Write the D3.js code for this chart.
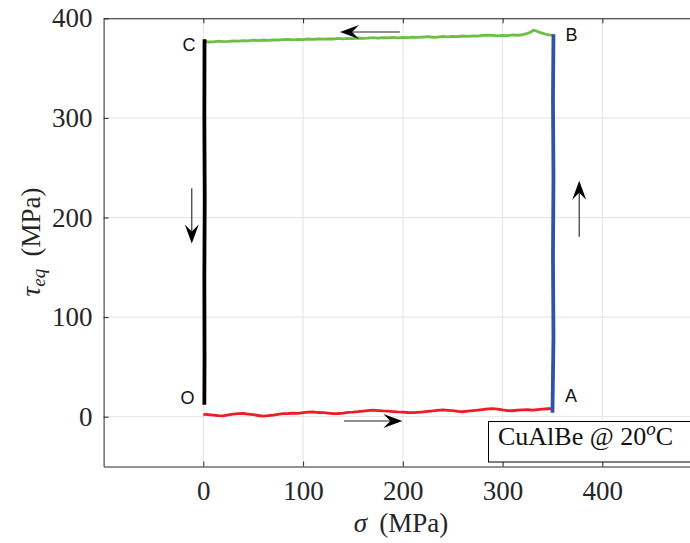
<!DOCTYPE html>
<html>
<head>
<meta charset="utf-8">
<script src="https://cdn.jsdelivr.net/npm/d3@7"></script>
<style>
  html, body { margin: 0; padding: 0; background: #fff; }
  svg { display: block; }
</style>
</head>
<body>
<div id="chart"></div>
<script>
// ---------- data ----------
const xTicks = [0, 100, 200, 300, 400];
const yTicks = [0, 100, 200, 300, 400];

// O -> A (red): sigma, tau
const redSigma = [0, 5, 10, 15, 20, 25, 30, 35, 40, 45, 50, 55, 60, 65, 70, 75, 80, 85, 90, 95, 100, 105, 110, 115, 120, 125, 130, 135, 140, 145, 150, 155, 160, 165, 170, 175, 180, 185, 190, 195, 200, 205, 210, 215, 220, 225, 230, 235, 240, 245, 250, 255, 260, 265, 270, 275, 280, 285, 290, 295, 300, 305, 310, 315, 320, 325, 330, 335, 340, 345, 350];
const redTau   = [2.4, 2.0, 1.6, 1.0, 0.8, 1.8, 2.6, 3.0, 3.2, 2.6, 2.0, 1.2, 0.6, 1.0, 1.6, 2.4, 3.0, 3.2, 3.6, 3.4, 4.2, 4.6, 4.8, 4.2, 4.0, 3.6, 3.0, 3.2, 3.6, 4.4, 4.6, 5.0, 5.6, 6.2, 6.6, 6.2, 5.8, 5.6, 5.2, 4.8, 4.6, 4.2, 4.0, 4.4, 4.8, 5.4, 5.8, 6.4, 6.8, 6.4, 6.0, 5.4, 5.0, 5.6, 6.2, 6.6, 7.2, 7.8, 8.2, 7.6, 6.8, 6.2, 6.0, 6.6, 6.8, 7.0, 6.6, 7.2, 7.6, 8.0, 8.2];

// A -> B (blue)
const blueSigma = [350, 351, 350.5, 351, 350.5, 351];
const blueTau   = [4, 80, 160, 240, 320, 384];

// B -> C (green)
const greenSigma = [351, 346, 342, 338, 334, 331, 328, 324, 320, 315, 310, 305, 300, 295, 290, 285, 280, 275, 270, 265, 260, 255, 250, 245, 240, 235, 230, 225, 220, 215, 210, 205, 200, 195, 190, 185, 180, 175, 170, 165, 160, 155, 150, 145, 140, 135, 130, 125, 120, 115, 110, 105, 100, 95, 90, 85, 80, 75, 70, 65, 60, 55, 50, 45, 40, 35, 30, 25, 20, 15, 10, 5, 2];
const greenTau   = [383, 383.4, 384.4, 385.6, 387.2, 388, 386, 384.6, 383.6, 383, 383.4, 382.6, 382.8, 382.4, 382.8, 383.2, 382.8, 382.2, 382.4, 381.8, 382.2, 381.6, 381.8, 381.4, 381.8, 381.2, 381, 381.6, 381.2, 380.8, 381, 380.6, 380.8, 380.4, 380.8, 380.4, 380.6, 380.2, 380.6, 380, 379.8, 380.2, 379.6, 379.8, 379.4, 379.8, 379.2, 379.4, 379, 379.4, 378.8, 379.2, 378.6, 378.8, 378.4, 378.8, 378.6, 378.2, 378.4, 377.8, 378.2, 377.6, 378, 377.4, 377.6, 377, 377.2, 376.8, 376.6, 377, 376.4, 376.2, 377];

// C -> O (black)
const blackSigma = [1.2, 1.0, 1.4, 1.0, 1.2, 1.0];
const blackTau   = [379, 300, 220, 140, 60, 12];

// point labels
const ptNames = ["O", "A", "B", "C"];
const ptSigma = [-15.8, 368.5, 369, -14.4];
const ptTau   = [13.2, 14.8, 377.2, 367];

// direction arrows: from (sigma, tau) to (sigma, tau)
const arrFromSigma = [141, 197, -11.6, 376.8];
const arrFromTau   = [-4.3, 386.2, 229.3, 180.7];
const arrToSigma   = [199.5, 137, -11.6, 376.8];
const arrToTau     = [-4.3, 386.2, 174, 237];

const boxText = "CuAlBe @ 20";

// ---------- drawing ----------
const W = 690, H = 543;
const svg = d3.select("#chart").append("svg").attr("width", W).attr("height", H);

const x = d3.scaleLinear().domain([-100, 500]).range([103.6, 702.1]);
const y = d3.scaleLinear().domain([-50, 400]).range([466.5, 18.3]);

const axisColor = "#262626";
const serif = "'Liberation Serif', 'Times New Roman', serif";
const sans = "'Liberation Sans', Arial, sans-serif";

// background
svg.append("rect").attr("x", x(-100)).attr("y", y(400))
  .attr("width", x(500) - x(-100)).attr("height", y(-50) - y(400))
  .attr("fill", "#fff");

// grid
const grid = svg.append("g");
grid.selectAll("line.gx").data(xTicks).enter().append("line")
  .attr("x1", d => x(d)).attr("x2", d => x(d))
  .attr("y1", y(-50)).attr("y2", y(400))
  .attr("stroke", "#e3e3e3").attr("stroke-width", 1);
grid.selectAll("line.gy").data(yTicks).enter().append("line")
  .attr("x1", x(-100)).attr("x2", x(500))
  .attr("y1", d => y(d)).attr("y2", d => y(d))
  .attr("stroke", "#e3e3e3").attr("stroke-width", 1);

// axes
function styleAxis(g) {
  g.select(".domain").attr("stroke", axisColor).attr("stroke-width", 1);
  g.selectAll(".tick line").attr("stroke", axisColor);
  g.selectAll(".tick text").attr("fill", axisColor)
    .style("font-family", serif).style("font-size", "27px");
}
const gx = svg.append("g").attr("transform", `translate(0,${y(-50)})`)
  .call(d3.axisBottom(x).tickValues(xTicks).tickSizeInner(-5).tickSizeOuter(0).tickPadding(14).tickFormat(d3.format("d")));
styleAxis(gx);
const gxt = svg.append("g").attr("transform", `translate(0,${y(400)})`)
  .call(d3.axisTop(x).tickValues(xTicks).tickSizeInner(-5).tickSizeOuter(0).tickFormat(""));
styleAxis(gxt);
const gy = svg.append("g").attr("transform", `translate(${x(-100)},0)`)
  .call(d3.axisLeft(y).tickValues(yTicks).tickSizeInner(-5).tickSizeOuter(0).tickPadding(11).tickFormat(d3.format("d")));
styleAxis(gy);

// series
const line = d3.line().x(d => x(d[0])).y(d => y(d[1]));
function series(sig, tau, color, width) {
  svg.append("path").datum(sig.map((s, i) => [s, tau[i]]))
    .attr("d", line).attr("fill", "none")
    .attr("stroke", color).attr("stroke-width", width)
    .attr("stroke-linejoin", "miter");
}
series(redSigma, redTau, "#ee1d25", 2.8);
series(greenSigma, greenTau, "#6dbf44", 2.8);
series(blackSigma, blackTau, "#000000", 3.8);
series(blueSigma, blueTau, "#3152a6", 3.8);

// point labels
svg.selectAll("text.pt").data(ptNames).enter().append("text")
  .attr("x", (d, i) => x(ptSigma[i])).attr("y", (d, i) => y(ptTau[i]))
  .attr("text-anchor", "middle")
  .style("font-family", sans).style("font-size", "18px").attr("fill", "#111")
  .text(d => d);

// arrows
function arrow(x1, y1, x2, y2) {
  const g = svg.append("g");
  const ang = Math.atan2(y2 - y1, x2 - x1);
  const L = 19, Wd = 14, N = 12;
  const sx = x2 - Math.cos(ang) * N, sy = y2 - Math.sin(ang) * N;
  g.append("line").attr("x1", x1).attr("y1", y1).attr("x2", sx).attr("y2", sy)
    .attr("stroke", "#222").attr("stroke-width", 1.1);
  const pts = [[0, 0], [-L, Wd / 2], [-N, 0], [-L, -Wd / 2]].map(([px, py]) => [
    x2 + px * Math.cos(ang) - py * Math.sin(ang),
    y2 + px * Math.sin(ang) + py * Math.cos(ang)
  ]);
  g.append("path").attr("d", "M" + pts.map(p => p.join(",")).join("L") + "Z").attr("fill", "#000");
}
arrFromSigma.forEach((s, i) => arrow(x(s), y(arrFromTau[i]), x(arrToSigma[i]), y(arrToTau[i])));

// text box
svg.append("rect").attr("x", 488.5).attr("y", 421.5).attr("width", 230).attr("height", 40.5)
  .attr("fill", "#fff").attr("stroke", "#000").attr("stroke-width", 1);
const bt = svg.append("text").attr("x", 498).attr("y", 445)
  .style("font-family", serif).style("font-size", "26px").attr("fill", "#111");
bt.append("tspan").text(boxText);
bt.append("tspan").attr("dy", -10).style("font-size", "19px").style("font-style", "italic").text("o");
bt.append("tspan").attr("dy", 10).text("C");

// axis labels
const xl = svg.append("text").attr("x", 401).attr("y", 532).attr("text-anchor", "middle")
  .style("font-family", serif).style("font-size", "27px").attr("fill", axisColor);
xl.append("tspan").style("font-style", "italic").text("σ");
xl.append("tspan").text("\u2009 (MPa)");

const yl = svg.append("text").attr("transform", "translate(40,242) rotate(-90)").attr("text-anchor", "middle")
  .style("font-family", serif).style("font-size", "27px").attr("fill", axisColor);
yl.append("tspan").style("font-style", "italic").text("τ");
yl.append("tspan").attr("dy", 5).style("font-style", "italic").style("font-size", "19px").text("eq");
yl.append("tspan").attr("dy", -5).text("\u2009 (MPa)");
</script>
</body>
</html>
